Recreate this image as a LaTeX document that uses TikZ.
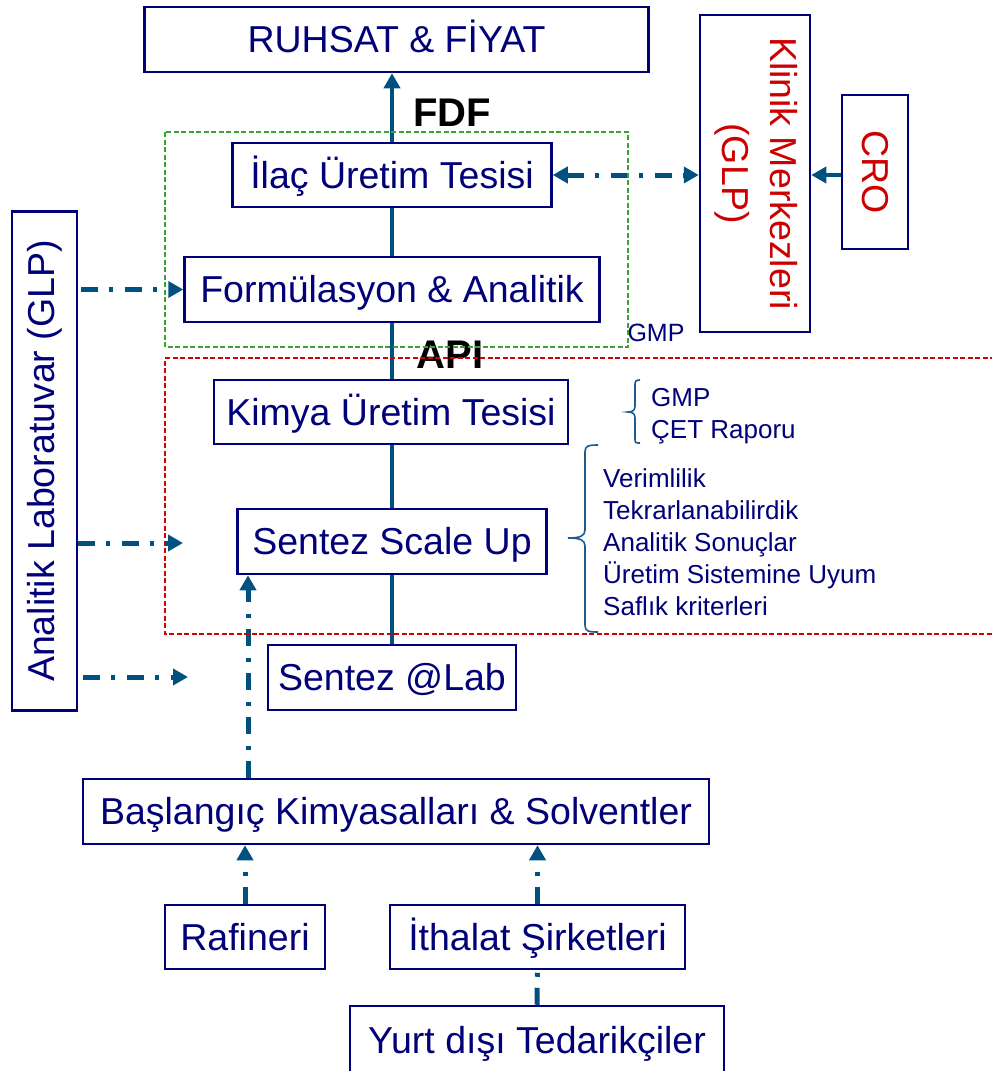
\documentclass[tikz,border=0pt]{standalone}
\usepackage{fontspec}
\usepackage{graphicx}
\setmainfont{Liberation Sans}
\usetikzlibrary{arrows.meta}
\definecolor{navy}{RGB}{0,0,120}
\definecolor{conn}{RGB}{0,80,128}
\definecolor{darkred}{RGB}{204,0,0}
\definecolor{gbox}{RGB}{58,163,53}
\definecolor{rbox}{RGB}{210,0,0}
\definecolor{bracec}{RGB}{31,90,140}
\tikzset{
  box/.style={draw=navy, line width=2.5pt, fill=white, text=navy, inner sep=0pt,
    font=\fontsize{37.5}{44}\selectfont},
  hbox/.style={box, text height=26.8pt, text depth=0pt},
  flow/.style={draw=conn, line width=3.8pt},
  dd/.style={draw=conn, line width=5pt, dash pattern=on 17pt off 11pt on 4pt off 12pt},
  tri/.style={-{Triangle[length=15pt,width=16pt]}},
  tritwo/.style={{Triangle[length=15pt,width=16pt]}-{Triangle[length=15pt,width=16pt]}},
  zone/.style={line width=1.5pt, dash pattern=on 5pt off 2.5pt},
  bigbold/.style={font=\fontsize{40}{44}\selectfont\bfseries, text=black, inner sep=0pt},
  small/.style={font=\fontsize{26}{32}\selectfont, text=navy, inner sep=0pt, align=left},
  bracepath/.style={draw=bracec, line width=1.6pt},
}
\begin{document}
\begin{tikzpicture}[x=1pt,y=-1pt]
\useasboundingbox (0,0) rectangle (991,1071);

% boxes
\node[hbox, minimum width=504, minimum height=65] (ruhsat) at (396.5,39.5) {RUHSAT \& FİYAT};
\node[hbox, minimum width=319, minimum height=64] (ilac) at (392,175) {İlaç Üretim Tesisi};
\node[hbox, minimum width=415, minimum height=65] (form) at (392,289.5) {Formülasyon \& Analitik};
\node[hbox, minimum width=354, minimum height=64] (kimya) at (391,412) {Kimya Üretim Tesisi};
\node[hbox, minimum width=309, minimum height=65] (scale) at (392,541.5) {Sentez Scale Up};
\node[hbox, minimum width=248, minimum height=65] (lab) at (392,677.5) {Sentez @Lab};
\node[hbox, minimum width=626, minimum height=65] (bas) at (396,811.5) {Başlangıç Kimyasalları \& Solventler};
\node[hbox, minimum width=160, minimum height=64] (raf) at (245,937) {Rafineri};
\node[hbox, minimum width=295, minimum height=64] (ith) at (537.5,937) {İthalat Şirketleri};
\node[hbox, minimum width=374, minimum height=68] (yurt) at (537,1040) {Yurt dışı Tedarikçiler};
\node[box, minimum width=65, minimum height=499] (anal) at (44.5,461) {\rotatebox{90}{Analitik Laboratuvar (GLP)}};
\node[box, minimum width=110, minimum height=317, text=darkred] (klinik) at (755,173.5)
  {\rotatebox{-90}{\begin{tabular}{@{}c@{}}Klinik Merkezleri\\[4pt](GLP)\end{tabular}}};
\node[box, minimum width=66, minimum height=154, text=darkred] (cro) at (875,172) {\rotatebox{-90}{CRO}};

% main flow
\draw[flow] (lab.north) -- (scale.south);
\draw[flow] (scale.north) -- (kimya.south -| scale.north);
\draw[flow] (kimya.north -| scale.north) -- (form.south);
\draw[flow] (form.north) -- (ilac.south);
\draw[flow, tri] (ilac.north) -- (ilac.north |- ruhsat.south);

% labels
\node[bigbold] (fdf) at (452,113) {FDF};
\node[bigbold] (api) at (450,355) {API};
\node[font=\fontsize{25}{30}\selectfont, text=navy, inner sep=0pt] (gmpa) at (656,333) {GMP};

% side arrows
\draw[dd, tritwo] (ilac.east) -- (klinik.west |- ilac.east);
\draw[flow, tri] (cro.west |- ilac.east) -- (klinik.east |- ilac.east);
\coordinate (t1) at (183,543);
\coordinate (t2) at (188,677);
\draw[dd, tri, shorten <=3pt] (anal.east |- form.west) -- (form.west);
\draw[dd, tri] (anal.east |- t1) -- (t1);
\draw[dd, tri, shorten <=5pt] (anal.east |- t2) -- (t2);

% supply arrows
\coordinate (c1) at (248,0);
\draw[dd, tri] (bas.north -| c1) -- (scale.south -| c1);
\draw[dd, tri] (raf.north) -- (bas.south -| raf.north);
\draw[dd, tri] (ith.north) -- (bas.south -| ith.north);
\draw[dd] (yurt.north) -- (ith.south);

% braces and lists
\draw[bracepath] (640,380) .. controls (636,380) and (635,381) .. (635,385)
  -- (635,406) .. controls (635,410) and (633,412) .. (628,412)
  .. controls (633,412) and (635,414) .. (635,418)
  -- (635,439) .. controls (635,443) and (636,443) .. (640,443);
\node[small, anchor=base west] (gmpb) at (651,406.5) {GMP};
\node[small, anchor=base west] (cet) at (651,438.5) {ÇET Raporu};
\draw[bracepath] (598,445) .. controls (588,445) and (585,446) .. (585,452)
  -- (585,530) .. controls (585,536) and (580,538) .. (568,538)
  .. controls (580,538) and (585,540) .. (585,546)
  -- (585,625) .. controls (585,631) and (588,632) .. (598,632);
\node[small, anchor=base west] (v1) at (603,487.5) {Verimlilik};
\node[small, anchor=base west] (v2) at (603,519.5) {Tekrarlanabilirdik};
\node[small, anchor=base west] (v3) at (603,551.5) {Analitik Sonuçlar};
\node[small, anchor=base west] (v4) at (603,583.5) {Üretim Sistemine Uyum};
\node[small, anchor=base west] (v5) at (603,615.5) {Saflık kriterleri};

% zones
\draw[zone, draw=gbox] (165,132) rectangle (628,347);
\draw[zone, draw=rbox] (995,358) -- (165,358) -- (165,634) -- (995,634);
\end{tikzpicture}
\end{document}
